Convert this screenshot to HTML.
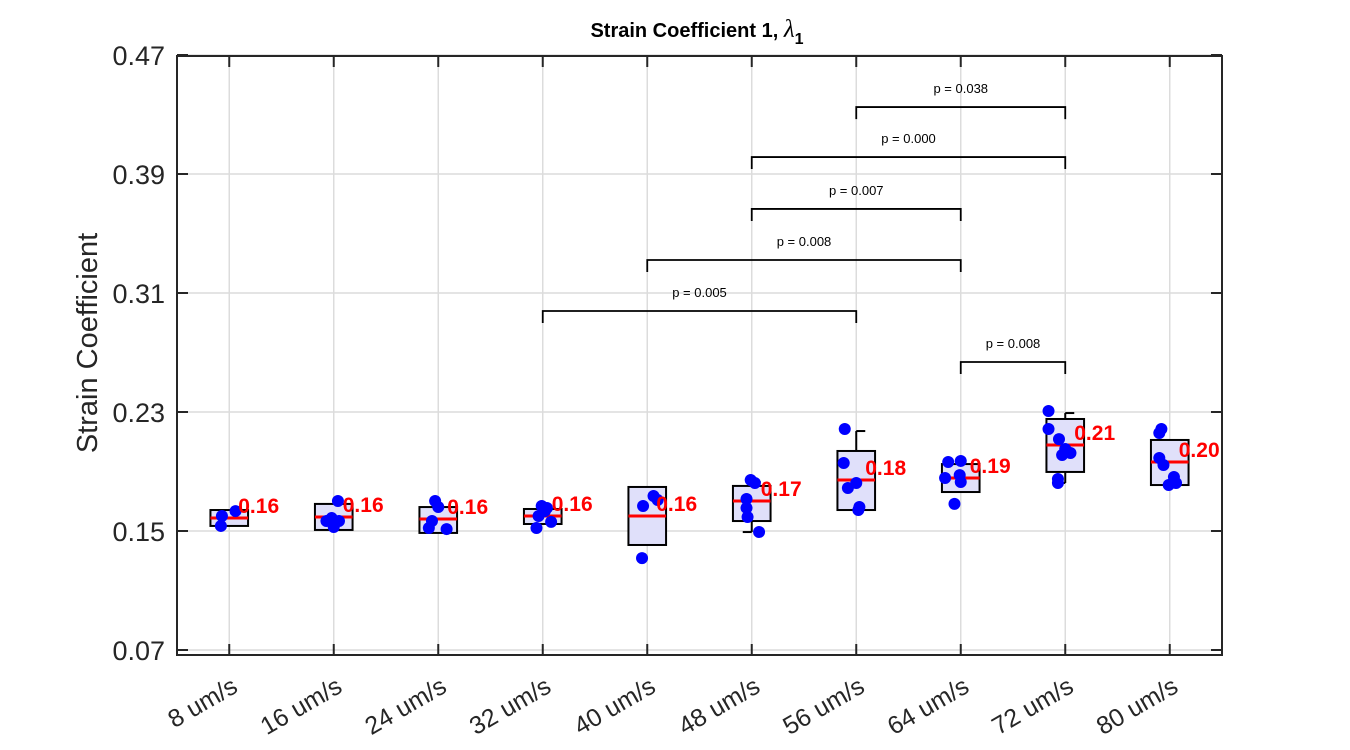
<!DOCTYPE html>
<html><head><meta charset="utf-8"><style>
body{margin:0;background:#fff;}
svg{display:block;font-family:"Liberation Sans",sans-serif;}
</style></head><body>
<svg id="chart" width="1350" height="750" xmlns="http://www.w3.org/2000/svg">
<rect width="1350" height="750" fill="#fff"/>
<text x="697" y="37" text-anchor="middle" font-size="20" font-weight="bold">Strain Coefficient 1, <tspan font-family="Liberation Serif" font-style="italic" font-weight="normal" font-size="25">λ</tspan><tspan font-size="16" dy="7">1</tspan></text>
<text transform="translate(97,343) rotate(-90)" text-anchor="middle" font-size="29" fill="#262626">Strain Coefficient</text>
<g id="grid"></g><g id="marks"></g><g id="axes"></g>
</svg>
<script>
const categories=["8 um/s","16 um/s","24 um/s","32 um/s","40 um/s","48 um/s","56 um/s","64 um/s","72 um/s","80 um/s"];
const q1=[0.1534,0.1507,0.1487,0.1547,0.1406,0.1567,0.1641,0.1762,0.1897,0.1809];
const q3=[0.1641,0.1682,0.1661,0.1648,0.1796,0.1803,0.2038,0.1950,0.2253,0.2112];
const medians=[0.1587,0.1594,0.1581,0.1601,0.1601,0.1702,0.1843,0.1856,0.2078,0.1964];
const whiskerHi=[0.1641,0.1708,0.1661,0.1648,0.1796,0.1829,0.2172,0.1950,0.2293,0.2112];
const whiskerLo=[0.1534,0.1507,0.1487,0.1547,0.1406,0.1493,0.1641,0.1762,0.1823,0.1809];
const medianLabels=["0.16","0.16","0.16","0.16","0.16","0.17","0.18","0.19","0.21","0.20"];
const points=[
 [0.1601,0.1634,0.1534],
 [0.1702,0.1567,0.1527,0.1567,0.1587],
 [0.1702,0.1661,0.1567,0.1520,0.1513],
 [0.1668,0.1634,0.1601,0.1520,0.1561,0.1655],
 [0.1668,0.1735,0.1318,0.1708],
 [0.1843,0.1823,0.1715,0.1655,0.1594,0.1493],
 [0.2186,0.1957,0.1789,0.1823,0.1661,0.1641],
 [0.1964,0.1971,0.1856,0.1876,0.1829,0.1682],
 [0.2307,0.2186,0.2118,0.2051,0.2011,0.1850,0.1823,0.2024],
 [0.2186,0.2159,0.1991,0.1944,0.1863,0.1836,0.1823,0.1809]];
const jitter=[
 [-0.07,0.06,-0.08],
 [0.04,-0.07,0.0,0.05,-0.02],
 [-0.03,0.0,-0.06,-0.09,0.08],
 [-0.01,0.02,-0.04,-0.06,0.08,0.04],
 [-0.04,0.06,-0.05,0.1],
 [-0.01,0.03,-0.05,-0.05,-0.04,0.07],
 [-0.11,-0.12,-0.08,0.0,0.03,0.02],
 [-0.12,0.0,-0.15,-0.01,0.0,-0.06],
 [-0.16,-0.16,-0.06,0.0,-0.03,-0.07,-0.07,0.05],
 [-0.08,-0.1,-0.1,-0.06,0.04,0.04,0.06,-0.01]];
const yTicks=[0.07,0.15,0.23,0.31,0.39,0.47];
const bracketFrom=[6,5,5,4,3,7];
const bracketTo=[8,8,7,7,6,8];
const bracketLevel=[0.435,0.4014,0.3665,0.3322,0.2979,0.2636];
const bracketText=["p = 0.038","p = 0.000","p = 0.007","p = 0.008","p = 0.005","p = 0.008"];

const L=177,R=1222,T=56,B=655;
const x=i=>L+(i+0.5)*(R-L)/10;
const y=v=>531-(v-0.15)*1487.5;
const NS="http://www.w3.org/2000/svg";
function mk(parent,tag,attrs,text){const e=document.createElementNS(NS,tag);for(const k in attrs)e.setAttribute(k,attrs[k]);if(text!==undefined)e.textContent=text;parent.appendChild(e);return e;}
const grid=document.getElementById('grid'),marks=document.getElementById('marks'),axes=document.getElementById('axes');
yTicks.forEach(t=>{const g=mk(grid,'line',{x1:L,x2:R,y1:y(t),y2:y(t),stroke:'#dcdcdc','stroke-width':1.5});

});
categories.forEach((c,i)=>{const g=mk(grid,'line',{x1:x(i),x2:x(i),y1:T,y2:B,stroke:'#dcdcdc','stroke-width':1.5});

});
const bw=0.36*(R-L)/10;
categories.forEach((c,i)=>{
 const cx=x(i);
 const g=mk(marks,'g',{});
 
 
 mk(g,'line',{x1:cx,x2:cx,y1:y(whiskerHi[i]),y2:y(q3[i]),stroke:'#000','stroke-width':2});
 mk(g,'line',{x1:cx,x2:cx,y1:y(whiskerLo[i]),y2:y(q1[i]),stroke:'#000','stroke-width':2});
 if(whiskerHi[i]>q3[i])mk(g,'line',{x1:cx,x2:cx+9,y1:y(whiskerHi[i]),y2:y(whiskerHi[i]),stroke:'#000','stroke-width':2});
 if(whiskerLo[i]<q1[i])mk(g,'line',{x1:cx-9,x2:cx,y1:y(whiskerLo[i]),y2:y(whiskerLo[i]),stroke:'#000','stroke-width':2});
 mk(g,'rect',{x:cx-bw/2,y:y(q3[i]),width:bw,height:y(q1[i])-y(q3[i]),fill:'#e0e0fa',stroke:'#000','stroke-width':2});
 mk(g,'line',{x1:cx-bw/2,x2:cx+bw/2,y1:y(medians[i]),y2:y(medians[i]),stroke:'#ff0000','stroke-width':3});
 points[i].forEach((v,j)=>{const p=mk(g,'circle',{cx:cx+jitter[i][j]*(R-L)/10,cy:y(v),r:6,fill:'#0000ff'});
 
 });
 const t=mk(g,'text',{x:cx+9,y:y(medians[i])-5,fill:'#ff0000','font-size':21,'font-weight':'bold'},medianLabels[i]);
 
 
});
bracketFrom.forEach((a,k)=>{
 const g=mk(marks,'g',{});
 
 
 const yy=y(bracketLevel[k]);
 mk(g,'path',{d:`M${x(a)},${yy+12}V${yy}H${x(bracketTo[k])}V${yy+12}`,fill:'none',stroke:'#000','stroke-width':1.8});
 mk(g,'text',{x:(x(a)+x(bracketTo[k]))/2,y:yy-14,'text-anchor':'middle','font-size':13},bracketText[k]);
});
mk(axes,'rect',{x:L,y:T,width:R-L,height:B-T,fill:'none',stroke:'#262626','stroke-width':2});
yTicks.forEach(t=>{
 mk(axes,'line',{x1:L,x2:L+11,y1:y(t),y2:y(t),stroke:'#262626','stroke-width':2});
 mk(axes,'line',{x1:R-11,x2:R,y1:y(t),y2:y(t),stroke:'#262626','stroke-width':2});
 const tl=mk(axes,'text',{x:L-12,y:y(t)+10,'text-anchor':'end','font-size':27,fill:'#262626'},t.toFixed(2));
 
 
});
categories.forEach((c,i)=>{
 mk(axes,'line',{x1:x(i),x2:x(i),y1:B,y2:B-11,stroke:'#262626','stroke-width':2});
 mk(axes,'line',{x1:x(i),x2:x(i),y1:T,y2:T+11,stroke:'#262626','stroke-width':2});
 const tl=mk(axes,'text',{transform:`translate(${x(i)+10},${B+36}) rotate(-30)`,'text-anchor':'end','font-size':25,fill:'#262626'},c);
 
 
});
</script>
</body></html>
